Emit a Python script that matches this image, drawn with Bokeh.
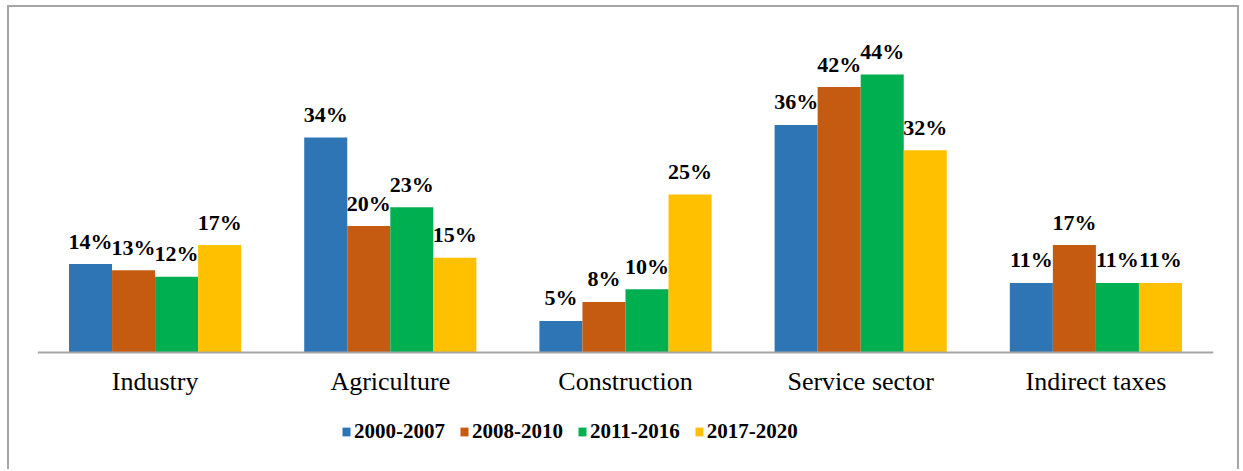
from bokeh.plotting import figure
from bokeh.models import FactorRange, Range1d, ColumnDataSource, Legend
from bokeh.transform import dodge
from bokeh.core.properties import value
from bokeh.embed import file_html
from bokeh.resources import INLINE

categories = ["Industry", "Agriculture", "Construction", "Service sector", "Indirect taxes"]
periods = ["2000-2007", "2008-2010", "2011-2016", "2017-2020"]
v_2000_2007 = [14, 34, 5, 36, 11]
v_2008_2010 = [13, 20, 8, 42, 17]
v_2011_2016 = [12, 23, 10, 44, 11]
v_2017_2020 = [17, 15, 25, 32, 11]
colors = ["#2E75B6", "#C55A11", "#00B050", "#FFC000"]

series = [v_2000_2007, v_2008_2010, v_2011_2016, v_2017_2020]

data = {"cat": categories}
for per, vals in zip(periods, series):
    data[per] = vals
    data[per + "_lbl"] = [f"{v}%" for v in vals]
source = ColumnDataSource(data)

p = figure(
    width=1232, height=464,
    x_range=FactorRange(*categories, range_padding=0),
    y_range=Range1d(-18.83, 50),
    output_backend="svg", toolbar_location=None,
    min_border_left=28, min_border_right=28, min_border_top=29, min_border_bottom=0,
    styles={"margin-left": "7px", "margin-top": "5px",
            "border-top": "2px solid #a6a6a6", "border-left": "2px solid #a6a6a6",
            "border-right": "2px solid #a6a6a6"},
)

bw = 0.183
offsets = [-1.5 * bw, -0.5 * bw, 0.5 * bw, 1.5 * bw]
items = []
for per, col, off in zip(periods, colors, offsets):
    r = p.vbar(x=dodge("cat", off, range=p.x_range), top=per, bottom=0, width=bw, source=source,
               fill_color=col, line_color=None)
    items.append((per, [r]))
    p.text(x=dodge("cat", off, range=p.x_range), y=per, text=per + "_lbl", source=source,
           text_align="center", text_baseline="alphabetic", y_offset=-23,
           text_font=value("Liberation Serif"), text_font_style="bold",
           text_font_size="22px", text_color="#000000")

p.yaxis.visible = False
p.xgrid.grid_line_color = None
p.ygrid.grid_line_color = None
p.outline_line_color = None
p.xaxis.fixed_location = 0
p.xaxis.axis_line_color = "#a6a6a6"
p.xaxis.axis_line_width = 2
p.xaxis.major_tick_line_color = None
p.xaxis.minor_tick_line_color = None
p.xaxis.major_tick_out = 0
p.xaxis.major_tick_in = 0
p.xaxis.major_label_standoff = 15
p.xaxis.major_label_text_font = "Liberation Serif"
p.xaxis.major_label_text_font_size = "26px"
p.xaxis.major_label_text_color = "#000000"

lg = Legend(items=items)
lg.orientation = "horizontal"
lg.location = (304, 27)
lg.border_line_color = None
lg.background_fill_alpha = 0
lg.padding = 0
lg.margin = 0
lg.spacing = 14
lg.glyph_width = 10
lg.glyph_height = 11
lg.label_standoff = 3
lg.label_height = 20
lg.label_text_font = "Liberation Serif"
lg.label_text_font_style = "bold"
lg.label_text_font_size = "21px"
lg.label_text_color = "#000000"
p.add_layout(lg, "center")

open("out.html", "w").write(file_html(p, INLINE))
